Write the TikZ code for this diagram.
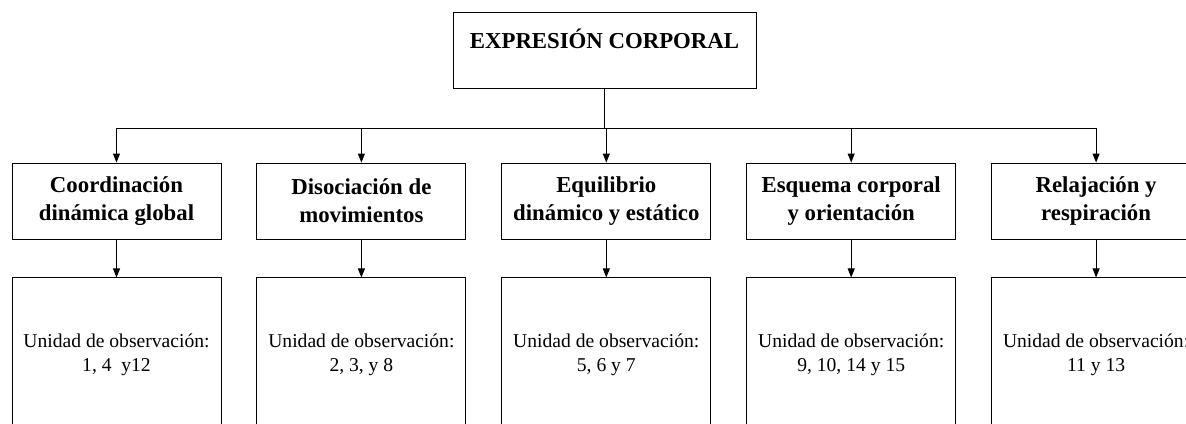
\documentclass[tikz,border=0pt]{standalone}
\usepackage{fontspec}
\setmainfont{Liberation Serif}
\usetikzlibrary{positioning, arrows.meta}

\begin{document}
\begin{tikzpicture}[
        x = 1pt, y = 1pt,
        > = {Triangle[length=9pt, width=7pt]}, % arrow head style
        line width = 0.9pt % line style
    ]

    \tikzstyle{area}=[draw = black, rectangle, align = center, inner sep = 2pt,
    minimum width = 209pt, minimum height = 76pt,
    font = \fontsize{22.8}{28}\selectfont\bfseries]
    \tikzstyle{obs}=[draw = black, rectangle, align = center, inner sep = 2pt,
    minimum width = 209pt, minimum height = 154pt,
    font = \fontsize{19.6}{24}\selectfont]

    \useasboundingbox (0,0) rectangle (1186,-423);
    \clip (0,0) rectangle (1186,-423);

    \node (expr) [area, minimum width = 303pt, text height = 16pt,
    text depth = 20pt] at (604.5,-50) {EXPRESIÓN CORPORAL};

    \node (dim1) [area] at (116.5,-201) {Coordinación\\dinámica global};
    \node (dim2) [area, right=35pt of dim1] {Disociación de\\movimientos};
    \node (dim3) [area, right=35pt of dim2] {Equilibrio\\dinámico y estático};
    \node (dim4) [area, right=35pt of dim3] {Esquema corporal\\y orientación};
    \node (dim5) [area, right=35pt of dim4] {Relajación y\\respiración};

    \node (obs1) [obs, below=38pt of dim1] {Unidad de observación:\\1, 4\ \ y12};
    \node (obs2) [obs, below=38pt of dim2] {Unidad de observación:\\2, 3, y 8};
    \node (obs3) [obs, below=38pt of dim3] {Unidad de observación:\\5, 6 y 7};
    \node (obs4) [obs, below=38pt of dim4] {Unidad de observación:\\9, 10, 14 y 15};
    \node (obs5) [obs, below=38pt of dim5] {Unidad de observación:\\11 y 13};

    \foreach \i in {1,...,5} {
        \draw[->] (expr.south) -- ++(0,-40) -| (dim\i.north);
        \draw[->] (dim\i) -- (obs\i);
    }

\end{tikzpicture}
\end{document}
